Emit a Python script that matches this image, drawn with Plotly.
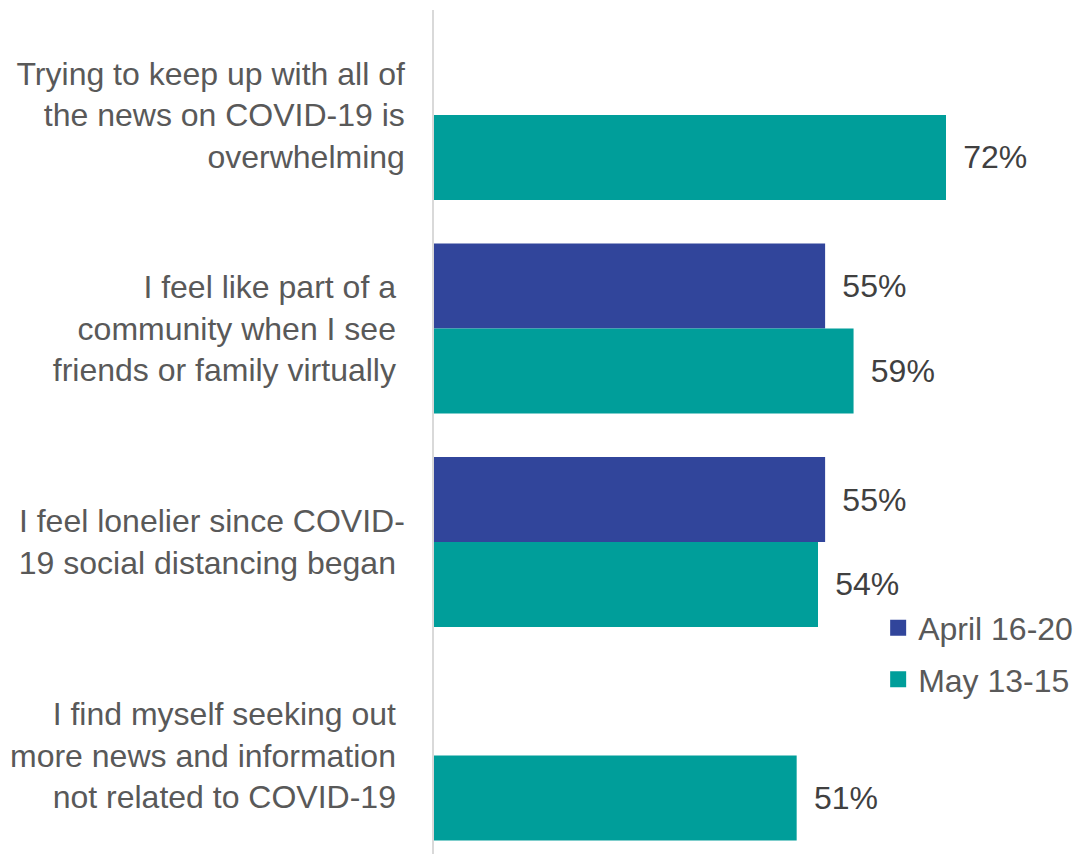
import plotly.graph_objects as go

NB = "\u00a0"
categories = [
    "Trying to keep up with all of<br>the news on COVID-19 is<br>overwhelming",
    f"I feel like part of a{NB}<br>community when I see{NB}<br>friends or family virtually{NB}",
    f"I feel lonelier since COVID-<br>19 social distancing began{NB}",
    f"I find myself seeking out{NB}<br>more news and information{NB}<br>not related to COVID-19{NB}",
]
april = [None, 55, 55, None]
may = [72, 59, 54, 51]

BLUE = "#31459B"
TEAL = "#009E9A"
FONT = "Arial, Liberation Sans, sans-serif"

fig = go.Figure()

for name, vals, color in [("April 16-20", april, BLUE), ("May 13-15", may, TEAL)]:
    fig.add_trace(go.Bar(
        y=categories, x=vals, orientation="h", name=name,
        marker=dict(color=color, line=dict(width=0)),
        text=[f"{NB}\u2006{v}%" if v is not None else "" for v in vals],
        textposition="outside", constraintext="none", cliponaxis=False,
        textfont=dict(size=32, color="#404040", family=FONT),
        showlegend=False,
    ))

# legend entries with bigger square swatches
for i, (name, color) in enumerate([("April 16-20", BLUE), ("May 13-15", TEAL)]):
    fig.add_trace(go.Scatter(
        x=[None], y=[None], mode="markers", name=name, legendgroup=str(i),
        marker=dict(symbol="square", size=17, color=color),
    ))

fig.update_layout(
    width=1074, height=854,
    margin=dict(l=434, r=0, t=10, b=0, autoexpand=False),
    paper_bgcolor="white", plot_bgcolor="white",
    barmode="group", bargap=0.204, bargroupgap=0,
    font=dict(family=FONT, color="#595959"),
    showlegend=True,
    legend=dict(
        x=0.694, y=0.237, xanchor="left", yanchor="middle",
        font=dict(size=32, color="#595959"),
        traceorder="grouped", tracegroupgap=7,
        bgcolor="rgba(0,0,0,0)",
    ),
    xaxis=dict(range=[0, 90], visible=False, fixedrange=True),
    yaxis=dict(
        type="category", categoryorder="array", categoryarray=categories,
        range=[3.4614, -0.4918], fixedrange=True,
        showline=True, linecolor="#D9D9D9", linewidth=1.5,
        showgrid=False, ticks="", ticklabelstandoff=21,
        tickfont=dict(size=32, color="#595959"),
    ),
)

fig.write_html("out.html", config={"displayModeBar": False},
               post_script="document.body.style.margin='0';")
